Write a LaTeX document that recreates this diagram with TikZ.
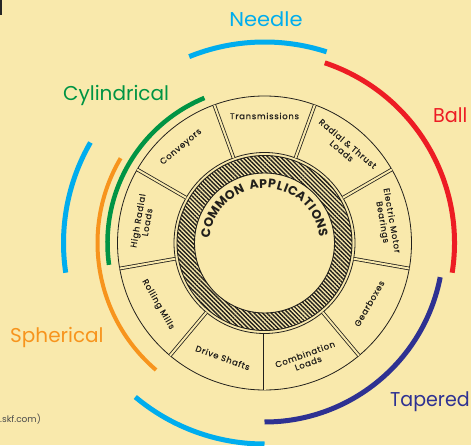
\documentclass[tikz,border=0pt]{standalone}
\usepackage{fontspec}
\setmainfont{Poppins}
\usetikzlibrary{patterns.meta}
\definecolor{paper}{RGB}{249,233,172}
\definecolor{ink}{RGB}{34,32,28}
\definecolor{needlec}{RGB}{0,173,238}
\definecolor{ballc}{RGB}{237,28,36}
\definecolor{taperc}{RGB}{46,49,146}
\definecolor{cylc}{RGB}{0,148,68}
\definecolor{sphc}{RGB}{247,148,29}
\begin{document}
\begin{tikzpicture}[x=1pt,y=1pt,
  band/.style={line width=#1, line cap=butt},
  seglabel/.style={font=\fontsize{8.4}{9.4}\selectfont\addfontfeature{LetterSpace=9,FakeBold=0.6}, text=ink, align=center, inner sep=0pt},
  typelabel/.style={font=\fontsize{20}{22}\selectfont, inner sep=0pt},
  sepline/.style={draw=ink, line width=0.8pt, double=paper, double distance=2pt},
  hubletter/.style={font=\fontsize{12.5}{12.5}\selectfont\bfseries, text=ink, inner sep=0pt}
]
\fill[paper] (0,0) rectangle (471,445);
\useasboundingbox (0,0) rectangle (471,445);
\coordinate (C) at (264.5,202);

% bearing type arcs
\draw[needlec, band=5pt] ([shift={(72:201)}]C) arc[start angle=72, end angle=112, radius=201];
\draw[needlec, band=5pt] ([shift={(150:201)}]C) arc[start angle=150, end angle=188.5, radius=201];
\draw[needlec, band=5pt] ([shift={(230:201)}]C) arc[start angle=230, end angle=270, radius=201];
\draw[ballc, band=5pt] ([shift={(-9:190)}]C) arc[start angle=-9, end angle=71.5, radius=190];
\draw[taperc, band=5pt] ([shift={(-90:179)}]C) arc[start angle=-90, end angle=-11, radius=179];
\draw[cylc, band=4.5pt] ([shift={(112.5:157)}]C) arc[start angle=112.5, end angle=188, radius=157];
\draw[sphc, band=4pt] ([shift={(149.5:167)}]C) arc[start angle=149.5, end angle=229.5, radius=167];

% hub ring
\fill[pattern={Lines[angle=-45,distance=3pt,line width=1.4pt]}, pattern color=ink, even odd rule]
  (C) circle[radius=87.5] (C) circle[radius=70];
\draw[ink, line width=0.9pt] (C) circle[radius=87.5] (C) circle[radius=70];
\draw[ink, line width=0.8pt] (C) circle[radius=90.5] (C) circle[radius=147];

% separators
\foreach \a in {30,70,...,350}
  \draw[sepline] ([shift={(\a:90.5)}]C) -- ([shift={(\a:147)}]C);

% segment labels
\node[seglabel, rotate=0] (transm) at ([shift={(90:127)}]C) {Transmissions};
\node[seglabel, rotate=-40] (radial) at ([shift={(50:125)}]C) {Radial \& Thrust\\Loads};
\node[seglabel, rotate=-80] (motor) at ([shift={(10:124)}]C) {Electric Motor\\Bearings};
\node[seglabel, rotate=60] (gear) at ([shift={(-30:121)}]C) {Gearboxes};
\node[seglabel, rotate=20] (comb) at ([shift={(-70:123)}]C) {Combination\\Loads};
\node[seglabel, rotate=-20] (drive) at ([shift={(250:122)}]C) {Drive Shafts};
\node[seglabel, rotate=-60] (rolling) at ([shift={(210:123)}]C) {Rolling Mills};
\node[seglabel, rotate=80] (highrad) at ([shift={(170:124)}]C) {High Radial\\Loads};
\node[seglabel, rotate=40] (conv) at ([shift={(131:127)}]C) {Conveyors};

% hub title
\foreach \ch/\ang [count=\i] in {C/170,O/159.8,M/148.6,M/136.8,O/125.6,N/115.4,A/100.4,P/91.4,P/82.8,L/74.8,I/68.6,C/61.4,A/51.8,T/42.9,I/36.5,O/28.8,N/18.6,S/9.8}
  \node[hubletter, rotate=\ang-90] (hub\i) at ([shift={(\ang:59.5)}]C) {\ch};

% type labels
\node[typelabel, text=needlec, anchor=base] (needlelbl) at (266,418) {\scalebox{1.05}[1]{Needle}};
\node[typelabel, text=ballc, anchor=base west] (balllbl) at (433,322) {\scalebox{0.96}[1]{Ball}};
\node[typelabel, text=cylc, anchor=base west] (cyllbl) at (63,344) {Cylindrical};
\node[typelabel, text=sphc, anchor=base west] (sphlbl) at (10,103) {Spherical};
\node[typelabel, text=taperc, anchor=base west] (taplbl) at (390,39) {\scalebox{0.95}[1]{Tapered}};

% corner marks
\fill[black!85] (0,430) rectangle (2.2,445);
\node[anchor=base west, font=\fontsize{9}{10}\selectfont, text=black!70, inner sep=0pt] (src) at (0,22.3) {.skf.com)};
\end{tikzpicture}
\end{document}
